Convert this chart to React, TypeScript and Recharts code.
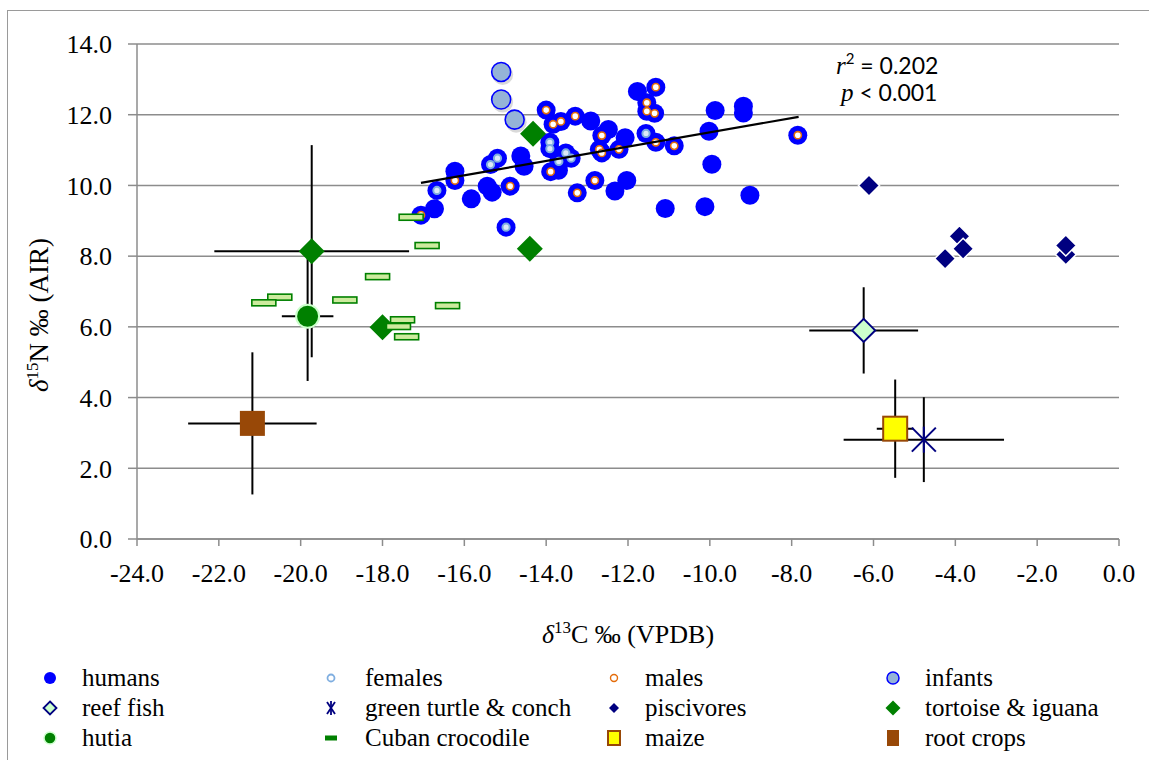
import React from "react";
import { ScatterChart, Scatter, XAxis, YAxis, CartesianGrid, ErrorBar } from "recharts";

const xTicks = [-24, -22, -20, -18, -16, -14, -12, -10, -8, -6, -4, -2, 0];
const yTicks = [0, 2, 4, 6, 8, 10, 12, 14];

const humans = [
  { x: -17.06, y: 9.16 }, { x: -16.73, y: 9.34 }, { x: -16.67, y: 9.86 }, { x: -16.23, y: 10.4 },
  { x: -16.23, y: 10.14 }, { x: -15.83, y: 9.62 }, { x: -15.44, y: 9.98 }, { x: -15.32, y: 9.81 },
  { x: -15.36, y: 10.59 }, { x: -15.19, y: 10.77 }, { x: -14.88, y: 9.98 }, { x: -14.98, y: 8.82 },
  { x: -14.62, y: 10.83 }, { x: -14.54, y: 10.54 }, { x: -14.0, y: 12.13 }, { x: -13.83, y: 11.73 },
  { x: -13.64, y: 11.81 }, { x: -13.29, y: 11.96 }, { x: -13.91, y: 11.22 }, { x: -13.91, y: 11.04 },
  { x: -13.89, y: 10.39 }, { x: -13.7, y: 10.43 }, { x: -13.69, y: 10.68 }, { x: -13.52, y: 10.92 },
  { x: -13.39, y: 10.77 }, { x: -13.24, y: 9.79 }, { x: -12.91, y: 11.82 }, { x: -12.81, y: 10.14 },
  { x: -12.64, y: 11.41 }, { x: -12.48, y: 11.58 }, { x: -12.7, y: 11.02 }, { x: -12.64, y: 10.92 },
  { x: -12.22, y: 11.02 }, { x: -12.07, y: 11.35 }, { x: -12.32, y: 9.84 }, { x: -12.03, y: 10.14 },
  { x: -11.77, y: 12.66 }, { x: -11.32, y: 12.78 }, { x: -11.54, y: 12.34 }, { x: -11.54, y: 12.1 },
  { x: -11.35, y: 12.04 }, { x: -11.56, y: 11.47 }, { x: -11.32, y: 11.22 }, { x: -10.87, y: 11.12 },
  { x: -11.09, y: 9.35 }, { x: -10.12, y: 9.4 }, { x: -9.95, y: 10.6 }, { x: -10.02, y: 11.53 },
  { x: -9.87, y: 12.12 }, { x: -9.18, y: 12.24 }, { x: -9.18, y: 12.05 }, { x: -9.02, y: 9.72 },
  { x: -7.85, y: 11.42 },
];

const females = [
  { x: -16.67, y: 9.86 }, { x: -15.36, y: 10.59 }, { x: -15.19, y: 10.77 }, { x: -14.98, y: 8.82 },
  { x: -13.91, y: 11.22 }, { x: -13.91, y: 11.04 }, { x: -13.69, y: 10.68 }, { x: -13.52, y: 10.92 },
  { x: -13.39, y: 10.77 }, { x: -11.56, y: 11.47 },
];

const males = [
  { x: -17.06, y: 9.16 }, { x: -16.23, y: 10.14 }, { x: -14.88, y: 9.98 }, { x: -14.0, y: 12.13 },
  { x: -13.83, y: 11.73 }, { x: -13.64, y: 11.81 }, { x: -13.29, y: 11.96 }, { x: -13.89, y: 10.39 },
  { x: -13.24, y: 9.79 }, { x: -12.81, y: 10.14 }, { x: -12.64, y: 11.41 }, { x: -12.7, y: 11.02 },
  { x: -12.64, y: 10.92 }, { x: -12.22, y: 11.02 }, { x: -11.32, y: 12.78 }, { x: -11.54, y: 12.34 },
  { x: -11.54, y: 12.1 }, { x: -11.35, y: 12.04 }, { x: -11.32, y: 11.22 }, { x: -10.87, y: 11.12 },
  { x: -7.85, y: 11.42 },
];

const infants = [{ x: -15.1, y: 13.21 }, { x: -15.1, y: 12.43 }, { x: -14.77, y: 11.86 }];

const reefFish = [{ x: -6.24, y: 5.9, ex: 1.33, ey: 1.22 }];

const turtleConch = [{ x: -4.77, y: 2.81, ex: 1.96, ey: 1.2 }];

const piscivores = [
  { x: -6.11, y: 10.0 }, { x: -3.9, y: 8.56 }, { x: -4.25, y: 7.93 }, { x: -3.81, y: 8.21 },
  { x: -1.3, y: 8.05 }, { x: -1.3, y: 8.3 },
];

const tortoiseIguana = [{ x: -14.32, y: 11.46 }, { x: -14.4, y: 8.21 }, { x: -18.0, y: 5.99 }];
const tortoiseMean = [{ x: -19.73, y: 8.14, ex: 2.38, ey: 3.0 }];

const hutia = [{ x: -19.83, y: 6.3, ex: 0.63, ey: 1.83 }];

const crocodile = [
  { x: -17.3, y: 9.1 }, { x: -16.91, y: 8.3 }, { x: -18.12, y: 7.42 }, { x: -20.51, y: 6.84 },
  { x: -20.9, y: 6.68 }, { x: -18.92, y: 6.76 }, { x: -16.41, y: 6.6 }, { x: -17.51, y: 6.2 },
  { x: -17.61, y: 6.01 }, { x: -17.41, y: 5.72 },
];

const maize = [{ x: -5.47, y: 3.12, ex: 0.45, ey: 1.39 }];
const rootCrops = [{ x: -21.18, y: 3.27, ex: 1.57, ey: 2.01 }];

const trend = [{ x: -17.06, y: 10.07 }, { x: -7.83, y: 11.94 }];

const serif = "'Liberation Serif', 'Times New Roman', serif";
const sans = "Lato, 'Liberation Sans', sans-serif";

const diamond = (cx: number, cy: number, h: number) =>
  `${cx},${cy - h} ${cx + h},${cy} ${cx},${cy + h} ${cx - h},${cy}`;

const HumanDot = (p: any) => <circle cx={p.cx} cy={p.cy} r={9.5} fill="#0000FF" />;
const FemaleDot = (p: any) => (
  <circle cx={p.cx} cy={p.cy} r={3.6} fill="#DCE9F7" stroke="#7FAEE0" strokeWidth={2} />
);
const MaleDot = (p: any) => (
  <circle cx={p.cx} cy={p.cy} r={3.6} fill="#FFFFFF" stroke="#E46C0A" strokeWidth={1.6} />
);
const InfantDot = (p: any) => (
  <g>
    <circle cx={p.cx + 1.5} cy={p.cy + 2.5} r={10.5} fill="#000" opacity={0.15} />
    <circle cx={p.cx} cy={p.cy} r={9.5} fill="#95B3D7" stroke="#0000FF" strokeWidth={1.6} />
  </g>
);
const ReefShape = (p: any) => (
  <polygon points={diamond(p.cx, p.cy, 11.5)} fill="#CCFFCC" stroke="#000080" strokeWidth={2} />
);
const StarShape = (p: any) => (
  <g stroke="#000080" strokeWidth={2}>
    <line x1={p.cx - 12} y1={p.cy - 12} x2={p.cx + 12} y2={p.cy + 12} />
    <line x1={p.cx - 12} y1={p.cy + 12} x2={p.cx + 12} y2={p.cy - 12} />
    <line x1={p.cx} y1={p.cy - 13} x2={p.cx} y2={p.cy + 13} />
  </g>
);
const PisciShape = (p: any) => (
  <polygon points={diamond(p.cx, p.cy, 10.5)} fill="#000080" stroke="#FFFFFF" strokeWidth={1.5} />
);
const TortoiseShape = (p: any) => <polygon points={diamond(p.cx, p.cy, 13)} fill="#008000" />;
const HutiaShape = (p: any) => (
  <circle cx={p.cx} cy={p.cy} r={11.5} fill="#008000" stroke="#CCFFCC" strokeWidth={2} />
);
const CrocShape = (p: any) => (
  <rect x={p.cx - 12} y={p.cy - 3} width={24} height={6} fill="#CDEB9E" stroke="#008000" strokeWidth={1.6} />
);
const MaizeShape = (p: any) => (
  <rect x={p.cx - 12} y={p.cy - 12} width={24} height={24} fill="#FFFF00" stroke="#984807" strokeWidth={2} />
);
const RootShape = (p: any) => (
  <rect x={p.cx - 12.5} y={p.cy - 12.5} width={25} height={25} fill="#984807" />
);
const NoShape = () => <g />;

const errX = <ErrorBar dataKey="ex" direction="x" width={0} stroke="#000" strokeWidth={2} />;
const errY = <ErrorBar dataKey="ey" direction="y" width={0} stroke="#000" strokeWidth={2} />;

const legendItems = [
  { label: "humans", icon: <circle cx={8} cy={8} r={6} fill="#0000FF" /> },
  { label: "females", icon: <circle cx={8} cy={8} r={3.5} fill="#fff" stroke="#7FAEE0" strokeWidth={1.8} /> },
  { label: "males", icon: <circle cx={8} cy={8} r={3.5} fill="#fff" stroke="#E46C0A" strokeWidth={1.4} /> },
  { label: "infants", icon: <circle cx={8} cy={8} r={6} fill="#95B3D7" stroke="#0000FF" strokeWidth={1.5} /> },
  { label: "reef fish", icon: <polygon points={diamond(8, 8, 6.5)} fill="#CCFFCC" stroke="#000080" strokeWidth={1.8} /> },
  {
    label: "green turtle & conch",
    icon: (
      <g stroke="#000080" strokeWidth={1.8}>
        <line x1={4} y1={2} x2={12} y2={14} />
        <line x1={4} y1={14} x2={12} y2={2} />
        <line x1={8} y1={1} x2={8} y2={15} />
      </g>
    ),
  },
  { label: "piscivores", icon: <polygon points={diamond(8, 8, 5)} fill="#000080" /> },
  { label: "tortoise & iguana", icon: <polygon points={diamond(8, 8, 7.5)} fill="#008000" /> },
  { label: "hutia", icon: <circle cx={8} cy={8} r={6} fill="#008000" stroke="#CCFFCC" strokeWidth={1.5} /> },
  { label: "Cuban crocodile", icon: <rect x={2} y={5.5} width={12} height={5} fill="#008000" /> },
  { label: "maize", icon: <rect x={2} y={1} width={12} height={14} fill="#FFFF00" stroke="#984807" strokeWidth={2} /> },
  { label: "root crops", icon: <rect x={2} y={0} width={12} height={16} fill="#984807" /> },
];

const colX = [42, 323, 606, 885];
const textX = [82, 365, 645, 925];
const rowY = [678, 708, 738];

export default function App() {
  return (
    <div
      style={{
        position: "absolute",
        left: 0,
        top: 0,
        width: 1149,
        height: 760,
        overflow: "hidden",
        background: "#fff",
        fontFamily: serif,
      }}
    >
      <div
        style={{
          position: "absolute",
          left: 7,
          top: 10,
          width: 1200,
          height: 800,
          border: "1.5px solid #9a9a9a",
        }}
      />
      <div style={{ position: "absolute", left: 0, top: 0 }}>
        <ScatterChart width={1149} height={600} margin={{ top: 44, right: 30, bottom: 0, left: 0 }}>
          <CartesianGrid vertical={false} stroke="#8c8c8c" strokeWidth={1.5} />
          <XAxis
            type="number"
            dataKey="x"
            domain={[-24, 0]}
            ticks={xTicks}
            allowDataOverflow
            height={61}
            tickFormatter={(v: number) => v.toFixed(1)}
            tick={{ fill: "#000", fontSize: 26, fontFamily: serif }}
            tickSize={7}
            tickMargin={18}
            stroke="#8c8c8c"
            strokeWidth={1.5}
          />
          <YAxis
            type="number"
            dataKey="y"
            domain={[0, 14]}
            ticks={yTicks}
            allowDataOverflow
            width={137}
            tickFormatter={(v: number) => v.toFixed(1)}
            tick={{ fill: "#000", fontSize: 26, fontFamily: serif }}
            tickSize={9}
            tickMargin={16}
            stroke="#8c8c8c"
            strokeWidth={1.5}
          />
          <Scatter data={humans} shape={HumanDot} isAnimationActive={false} />
          <Scatter data={females} shape={FemaleDot} isAnimationActive={false} />
          <Scatter data={males} shape={MaleDot} isAnimationActive={false} />
          <Scatter data={infants} shape={InfantDot} isAnimationActive={false} />
          <Scatter data={reefFish} shape={ReefShape} isAnimationActive={false}>
            {errX}
            {errY}
          </Scatter>
          <Scatter data={turtleConch} shape={StarShape} isAnimationActive={false}>
            {errX}
            {errY}
          </Scatter>
          <Scatter data={piscivores} shape={PisciShape} isAnimationActive={false} />
          <Scatter data={tortoiseMean} shape={TortoiseShape} isAnimationActive={false}>
            {errX}
            {errY}
          </Scatter>
          <Scatter data={tortoiseIguana} shape={TortoiseShape} isAnimationActive={false} />
          <Scatter data={hutia} shape={HutiaShape} isAnimationActive={false}>
            {errX}
            {errY}
          </Scatter>
          <Scatter data={crocodile} shape={CrocShape} isAnimationActive={false} />
          <Scatter data={maize} shape={MaizeShape} isAnimationActive={false}>
            {errX}
            {errY}
          </Scatter>
          <Scatter data={rootCrops} shape={RootShape} isAnimationActive={false}>
            {errX}
            {errY}
          </Scatter>
          <Scatter
            data={trend}
            shape={NoShape}
            line={{ stroke: "#000", strokeWidth: 2.2 }}
            isAnimationActive={false}
          />
        </ScatterChart>
      </div>

      <svg
        width={1149}
        height={760}
        style={{ position: "absolute", left: 0, top: 0, pointerEvents: "none" }}
      >
        <text x={628} y={643} textAnchor="middle" fontSize={26} fontFamily={serif} fill="#000">
          <tspan fontStyle="italic">δ</tspan>
          <tspan fontSize={17} dy={-10}>13</tspan>
          <tspan dy={10}>C ‰ (VPDB)</tspan>
        </text>
        <text
          transform="translate(48,315) rotate(-90)"
          textAnchor="middle"
          fontSize={27}
          fontFamily={serif}
          fill="#000"
        >
          <tspan fontStyle="italic">δ</tspan>
          <tspan fontSize={17} dy={-10}>15</tspan>
          <tspan dy={10}>N ‰ (AIR)</tspan>
        </text>
        <text x={836} y={74} fontSize={23} fontFamily={sans} fill="#000">
          <tspan fontStyle="italic" fontFamily={serif} fontSize={25}>r</tspan>
          <tspan fontSize={15} dy={-10}>2</tspan>
          <tspan dy={10}> = 0.202</tspan>
        </text>
        <text x={841} y={101} fontSize={23} fontFamily={sans} fill="#000">
          <tspan fontStyle="italic" fontFamily={serif} fontSize={25}>p</tspan>
          <tspan> &lt; 0.001</tspan>
        </text>
      </svg>

      {legendItems.map((item, i) => {
        const col = i % 4;
        const row = Math.floor(i / 4);
        return (
          <React.Fragment key={item.label}>
            <svg
              width={16}
              height={16}
              style={{ position: "absolute", left: colX[col], top: rowY[row] - 8 }}
            >
              {item.icon}
            </svg>
            <div
              style={{
                position: "absolute",
                left: textX[col],
                top: rowY[row] - 15,
                height: 30,
                lineHeight: "30px",
                fontSize: 25,
                whiteSpace: "nowrap",
                color: "#000",
              }}
            >
              {item.label}
            </div>
          </React.Fragment>
        );
      })}
    </div>
  );
}
